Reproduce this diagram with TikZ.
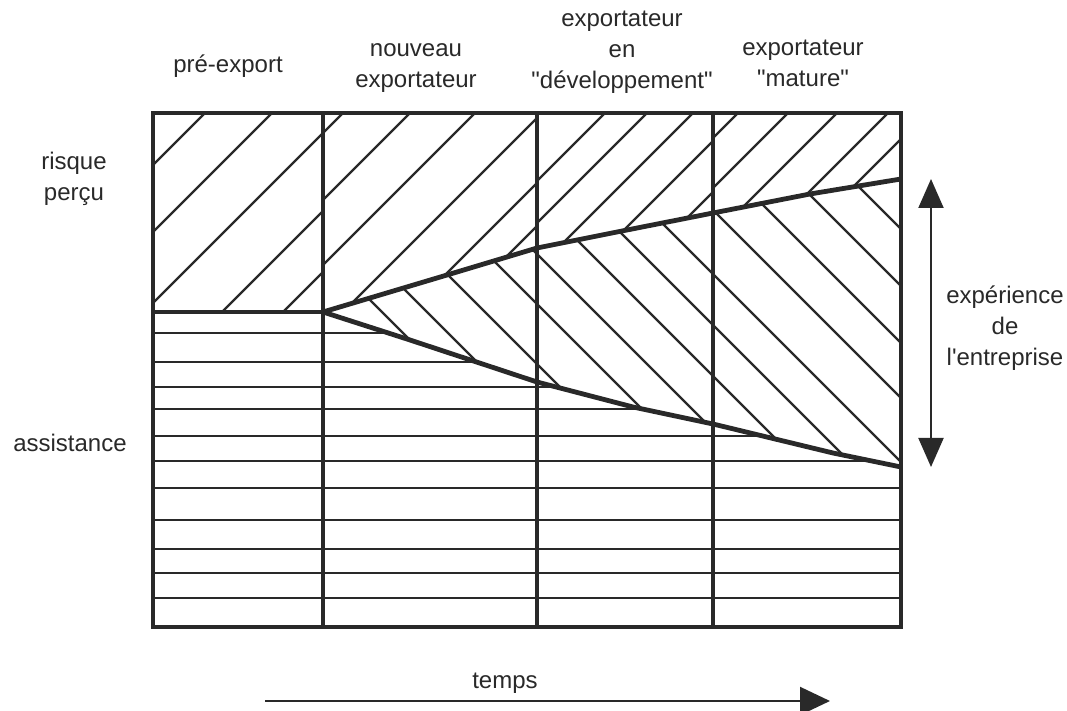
\documentclass[tikz,border=0pt]{standalone}
\usepackage{fontspec}
\setmainfont{Liberation Sans}
\usetikzlibrary{arrows.meta}
\definecolor{ink}{rgb}{.16,.16,.16}

\begin{document}
\begin{tikzpicture}[x=0.5pt,y=-0.5pt,% one unit is one pixel of the 1067x711 frame, y downwards
      every node/.style={
        align=center,     % so that "\\" breaks the lines
        inner sep=0pt,
        text=ink,
        font=\fontsize{12}{15.5}\selectfont
      },
      frame/.style={draw=ink,line width=2pt},
      border/.style={draw=ink,line width=2.4pt,line join=round},
      hatch/.style={draw=ink,line width=1.1pt},
      bigarrow/.style={draw=ink,line width=1pt}
    ]
    \useasboundingbox (0,0) rectangle (1067,711);

    % upper curve (risk) and lower curve (assistance)
    \coordinate (u0) at (323,312);
    \coordinate (u1) at (447,275);
    \coordinate (u2) at (537,248);
    \coordinate (u3) at (627,230);
    \coordinate (u4) at (713,213);
    \coordinate (u5) at (810,194);
    \coordinate (u6) at (901,179);
    \coordinate (l1) at (410,340);
    \coordinate (l2) at (537,382);
    \coordinate (l3) at (633,407);
    \coordinate (l4) at (713,424);
    \coordinate (l5) at (833,453);
    \coordinate (l6) at (901,467);

    % pre-export: risk only
    \begin{scope}
      \clip (153,113) rectangle (323,312);
      \foreach \a in {205,272,343,421,482}
        \draw[hatch] (\a,113) -- ++(-300,300);
    \end{scope}

    % risk above the upper curve
    \begin{scope}
      \clip (323,113) -- (901,113) -- (u6) -- (u5) -- (u4) -- (u3) -- (u2) -- (u1) -- (u0) -- cycle;
      \foreach \l/\r/\lst in {323/537/{343,410,475,542,607,650},
                              537/713/{605,647,693,741,792},
                              713/901/{738,788,837,888,927}}{
        \begin{scope}
          \clip (\l,113) rectangle (\r,312);
          \foreach \a in \lst
            \draw[hatch] (\a,113) -- ++(-300,300);
        \end{scope}
      }
    \end{scope}

    % experience between the curves
    \begin{scope}
      \clip (u0) -- (u1) -- (u2) -- (u3) -- (u4) -- (u5) -- (u6)
        -- (l6) -- (l5) -- (l4) -- (l3) -- (l2) -- (l1) -- cycle;
      \foreach \a in {183,228,286,346,396,450,501,552,616,671,728,785}
        \draw[hatch] (\a,113) -- ++(400,400);
    \end{scope}

    % assistance below
    \begin{scope}
      \clip (153,312) -- (u0) -- (l1) -- (l2) -- (l3) -- (l4) -- (l5) -- (l6)
        -- (901,627) -- (153,627) -- cycle;
      \foreach \y in {333,362,387,409,436,461,488,520,549,573,598}
        \draw[hatch] (153,\y) -- (901,\y);
    \end{scope}

    % frame and stages
    \draw[frame] (153,113) rectangle (901,627);
    \foreach \x in {323,537,713}
      \draw[frame] (\x,113) -- (\x,627);
    \draw[frame] (153,312) -- (u0);
    \draw[border] (u0) -- (u1) -- (u2) -- (u3) -- (u4) -- (u5) -- (u6);
    \draw[border] (u0) -- (l1) -- (l2) -- (l3) -- (l4) -- (l5) -- (l6);

    % labels
    \node (T1) at (228,66) {pré-export};
    \node (T2) at (416,68) {nouveau\\exportateur};
    \node (T3) at (622,52) {exportateur\\en\\\textquotedbl développement\textquotedbl};
    \node (T4) at (803,63) {exportateur\\\textquotedbl mature\textquotedbl};
    \node (L1) at (74,179) {risque\\perçu};
    \node (L2) at (70,443) {assistance};
    \node (R1) at (1005,328) {expérience\\de\\l\textquotesingle entreprise};
    \node (B1) at (505,683) {temps};

    % arrows
    \coordinate (E1) at (931,179);
    \coordinate (E2) at (931,467);
    \coordinate (S1) at (265,701);
    \coordinate (S2) at (830,701);
    \draw[bigarrow,{Triangle[length=14.5pt,width=12.5pt]}-{Triangle[length=14.5pt,width=12.5pt]}] (E1) -- (E2);
    \draw[bigarrow,-{Triangle[length=15pt,width=14pt]}] (S1) -- (S2);
  \end{tikzpicture}
\end{document}
